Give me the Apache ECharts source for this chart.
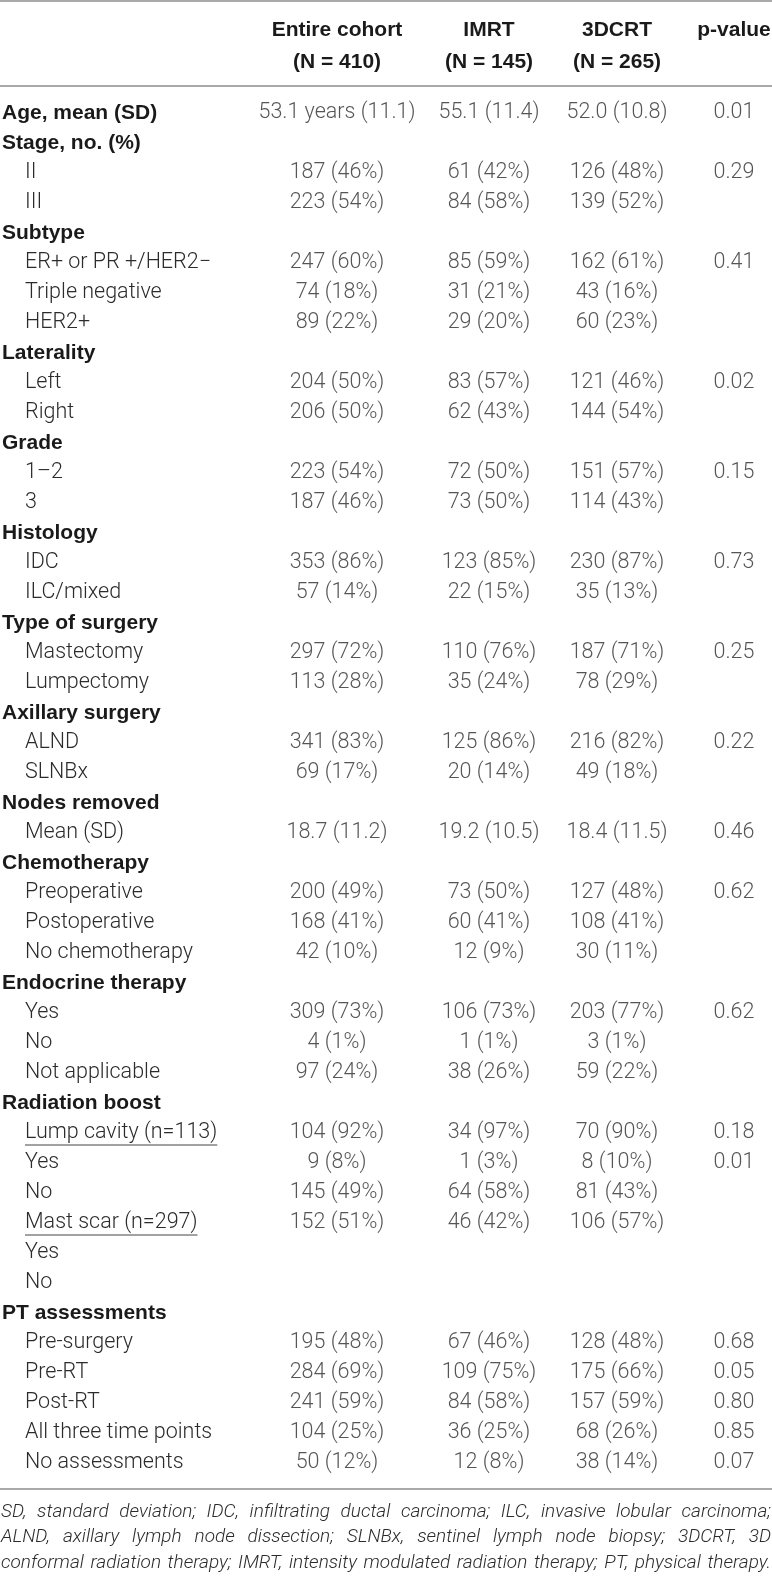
<!DOCTYPE html>
<html>
<head>
    <meta charset="UTF-8">
    <title>Patient characteristics</title>
    <script src="https://cdnjs.cloudflare.com/ajax/libs/echarts/6.0.0/echarts.min.js"></script>
    <style>
        html, body { margin: 0; padding: 0; background: #fff; }
        #chart { width: 772px; height: 1580px; }
    </style>
</head>
<body>
    <div id="chart"></div>
    <script>
        // 표 데이터 (행 라벨 / 열 값)
        const rowLabels = [
            'Age, mean (SD)', 'Stage, no. (%)', 'II', 'III',
            'Subtype', 'ER+ or PR +/HER2\u2212', 'Triple negative', 'HER2+',
            'Laterality', 'Left', 'Right',
            'Grade', '1\u20132', '3',
            'Histology', 'IDC', 'ILC/mixed',
            'Type of surgery', 'Mastectomy', 'Lumpectomy',
            'Axillary surgery', 'ALND', 'SLNBx',
            'Nodes removed', 'Mean (SD)',
            'Chemotherapy', 'Preoperative', 'Postoperative', 'No chemotherapy',
            'Endocrine therapy', 'Yes', 'No', 'Not applicable',
            'Radiation boost', 'Lump cavity (n=113)', 'Yes', 'No', 'Mast scar (n=297)', 'Yes', 'No',
            'PT assessments', 'Pre-surgery', 'Pre-RT', 'Post-RT', 'All three time points', 'No assessments'
        ];
        const sectionHeads = [
            'Age, mean (SD)', 'Stage, no. (%)', 'Subtype', 'Laterality', 'Grade', 'Histology',
            'Type of surgery', 'Axillary surgery', 'Nodes removed', 'Chemotherapy',
            'Endocrine therapy', 'Radiation boost', 'PT assessments'
        ];
        const underlinedLabels = ['Lump cavity (n=113)', 'Mast scar (n=297)'];

        const columnHeads = [
            ['Entire cohort', '(N = 410)'],
            ['IMRT', '(N = 145)'],
            ['3DCRT', '(N = 265)'],
            ['p-value', '']
        ];

        const entireCohort = [
            '53.1 years (11.1)', '', '187 (46%)', '223 (54%)',
            '', '247 (60%)', '74 (18%)', '89 (22%)',
            '', '204 (50%)', '206 (50%)',
            '', '223 (54%)', '187 (46%)',
            '', '353 (86%)', '57 (14%)',
            '', '297 (72%)', '113 (28%)',
            '', '341 (83%)', '69 (17%)',
            '', '18.7 (11.2)',
            '', '200 (49%)', '168 (41%)', '42 (10%)',
            '', '309 (73%)', '4 (1%)', '97 (24%)',
            '', '104 (92%)', '9 (8%)', '145 (49%)', '152 (51%)', '', '',
            '', '195 (48%)', '284 (69%)', '241 (59%)', '104 (25%)', '50 (12%)'
        ];
        const imrt = [
            '55.1 (11.4)', '', '61 (42%)', '84 (58%)',
            '', '85 (59%)', '31 (21%)', '29 (20%)',
            '', '83 (57%)', '62 (43%)',
            '', '72 (50%)', '73 (50%)',
            '', '123 (85%)', '22 (15%)',
            '', '110 (76%)', '35 (24%)',
            '', '125 (86%)', '20 (14%)',
            '', '19.2 (10.5)',
            '', '73 (50%)', '60 (41%)', '12 (9%)',
            '', '106 (73%)', '1 (1%)', '38 (26%)',
            '', '34 (97%)', '1 (3%)', '64 (58%)', '46 (42%)', '', '',
            '', '67 (46%)', '109 (75%)', '84 (58%)', '36 (25%)', '12 (8%)'
        ];
        const dcrt3 = [
            '52.0 (10.8)', '', '126 (48%)', '139 (52%)',
            '', '162 (61%)', '43 (16%)', '60 (23%)',
            '', '121 (46%)', '144 (54%)',
            '', '151 (57%)', '114 (43%)',
            '', '230 (87%)', '35 (13%)',
            '', '187 (71%)', '78 (29%)',
            '', '216 (82%)', '49 (18%)',
            '', '18.4 (11.5)',
            '', '127 (48%)', '108 (41%)', '30 (11%)',
            '', '203 (77%)', '3 (1%)', '59 (22%)',
            '', '70 (90%)', '8 (10%)', '81 (43%)', '106 (57%)', '', '',
            '', '128 (48%)', '175 (66%)', '157 (59%)', '68 (26%)', '38 (14%)'
        ];
        const pValue = [
            '0.01', '', '0.29', '',
            '', '0.41', '', '',
            '', '0.02', '',
            '', '0.15', '',
            '', '0.73', '',
            '', '0.25', '',
            '', '0.22', '',
            '', '0.46',
            '', '0.62', '', '',
            '', '0.62', '', '',
            '', '0.18', '0.01', '', '', '', '',
            '', '0.68', '0.05', '0.80', '0.85', '0.07'
        ];
        const footnoteLines = [
            'SD, standard deviation; IDC, infiltrating ductal carcinoma; ILC, invasive lobular carcinoma;',
            'ALND, axillary lymph node dissection; SLNBx, sentinel lymph node biopsy; 3DCRT, 3D',
            'conformal radiation therapy; IMRT, intensity modulated radiation therapy; PT, physical therapy.'
        ];

        // 레이아웃 상수
        const W = 772;
        const FONT = 'Roboto, "Liberation Sans", sans-serif';
        const BOLD_FONT = '"Liberation Sans", Arial, sans-serif';
        const FS = 21.5;
        const BFS = 21;
        const colX = [337, 489, 617, 734];
        const rowTop = 98, rowH = 30;
        const lineColor = '#8c8c8c';
        const textColor = '#2b2b2b';
        const boldColor = '#1a1a1a';

        const chart = echarts.init(document.getElementById('chart'));

        function columnSeries(values, c) {
            return {
                type: 'scatter',
                silent: true,
                symbolSize: 1,
                itemStyle: { color: 'rgba(0,0,0,0)' },
                data: values.map((t, i) => ({ name: t, value: [colX[c], i] })).filter(d => d.name),
                label: {
                    show: true,
                    position: 'inside',
                    formatter: '{b}',
                    color: textColor,
                    fontFamily: FONT,
                    fontSize: FS,
                    fontWeight: 300
                }
            };
        }

        // 캔버스로 글자 폭 측정
        const measureCtx = document.createElement('canvas').getContext('2d');
        function textWidth(str, font) {
            measureCtx.font = font;
            return measureCtx.measureText(str).width;
        }

        const graphics = [];
        // 가로선
        [1, 86, 1489].forEach(y => graphics.push({
            type: 'line', silent: true,
            shape: { x1: 0, y1: y, x2: W, y2: y },
            style: { stroke: lineColor, lineWidth: 1.3 }
        }));
        // 열 제목
        columnHeads.forEach((h, c) => {
            h.forEach((t, k) => {
                if (!t) return;
                graphics.push({
                    type: 'text', silent: true,
                    x: colX[c], y: k === 0 ? 30 : 62,
                    style: {
                        text: t, fill: boldColor, font: 'bold ' + BFS + 'px ' + BOLD_FONT,
                        textAlign: 'center', textVerticalAlign: 'middle'
                    }
                });
            });
        });
        // 각주 (양쪽 정렬)
        const footFont = 'italic 300 19px ' + FONT;
        footnoteLines.forEach((line, li) => {
            const words = line.split(' ');
            const widths = words.map(w => textWidth(w, footFont));
            const total = widths.reduce((a, b) => a + b, 0);
            const gap = (W - 2 - total) / (words.length - 1);
            let x = 1;
            words.forEach((w, wi) => {
                graphics.push({
                    type: 'text', silent: true,
                    x: x, y: 1512 + li * 25.5,
                    style: {
                        text: w, fill: textColor, font: footFont,
                        textAlign: 'left', textVerticalAlign: 'middle'
                    }
                });
                x += widths[wi] + gap;
            });
        });

        const option = {
            animation: false,
            grid: {
                left: 2, right: 0, top: rowTop, height: rowLabels.length * rowH,
                containLabel: false, outerBoundsMode: 'none'
            },
            xAxis: { type: 'value', min: 2, max: W, show: false },
            yAxis: {
                type: 'category',
                inverse: true,
                data: rowLabels.map((_, i) => String(i)),
                axisLine: { show: false },
                axisTick: { show: false },
                splitLine: { show: false },
                axisLabel: {
                    interval: 0,
                    align: 'left',
                    margin: 0,
                    hideOverlap: false,
                    formatter: (v, i) => {
                        const t = rowLabels[i];
                        return sectionHeads.includes(t) ? '{h|' + t + '}' : '{s|' + t + '}';
                    },
                    rich: {
                        h: { fontFamily: BOLD_FONT, fontSize: BFS, fontWeight: 'bold', color: boldColor },
                        s: { fontFamily: FONT, fontSize: FS, fontWeight: 300, color: textColor, padding: [0, 0, 0, 23] }
                    }
                }
            },
            series: [entireCohort, imrt, dcrt3, pValue].map(columnSeries),
            graphic: graphics
        };
        chart.setOption(option);

        // 밑줄 (Lump cavity / Mast scar)
        const underlineShapes = [];
        rowLabels.forEach((t, i) => {
            if (!underlinedLabels.includes(t)) return;
            const p = chart.convertToPixel({ gridIndex: 0 }, [2, i]);
            const w = textWidth(t, '300 ' + FS + 'px ' + FONT);
            underlineShapes.push({
                type: 'line', silent: true,
                shape: { x1: 25, y1: p[1] + 12, x2: 25 + w, y2: p[1] + 12 },
                style: { stroke: '#444', lineWidth: 1 }
            });
        });
        chart.setOption({ graphic: graphics.concat(underlineShapes) });
    </script>
</body>
</html>
